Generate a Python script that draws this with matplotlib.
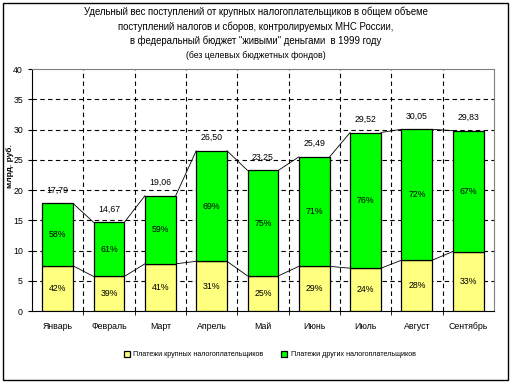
import numpy as np
import matplotlib.pyplot as plt
from matplotlib.patches import Rectangle

plt.rcParams['font.family'] = ['Liberation Sans', 'DejaVu Sans']

# Данные: млрд. руб.
months = ["Январь", "Февраль", "Март", "Апрель", "Май", "Июнь", "Июль", "Август", "Сентябрь"]
totals = [17.79, 14.67, 19.06, 26.50, 23.25, 25.49, 29.52, 30.05, 29.83]
large_pct = [42, 39, 41, 31, 25, 29, 24, 28, 33]
other_pct = [58, 61, 59, 69, 75, 71, 76, 72, 67]
large_vals = [7.47, 5.72, 7.81, 8.22, 5.81, 7.39, 7.08, 8.41, 9.84]

title_lines = [
    "Удельный вес поступлений от крупных налогоплательщиков в общем объеме",
    "поступлений налогов и сборов, контролируемых МНС России,",
    "в федеральный бюджет \"живыми\" деньгами  в 1999 году",
    "(без целевых бюджетных фондов)",
]
legend_labels = ["Платежи крупных налогоплательщиков", "Платежи других налогоплательщиков"]

yellow = "#FFFF80"
green = "#00FF00"

fig = plt.figure(figsize=(5.12, 3.84), dpi=100)
fig.patches.append(Rectangle((0.006, 0.01), 0.986, 0.982, transform=fig.transFigure,
                             fill=False, edgecolor="black", lw=1))

for k, line in enumerate(title_lines):
    fig.text(0.5, 1 - (12 + 14.5 * k) / 384, line, ha="center", va="center",
             fontsize=6.9 if k < 3 else 6.3)

ax = fig.add_axes([0.0625, 0.19, 0.902, 0.63])
x = np.arange(len(months))
w = 0.6
other_vals = [t - b for t, b in zip(totals, large_vals)]

ax.bar(x, large_vals, w, color=yellow, edgecolor="black", lw=0.9, zorder=3,
       label=legend_labels[0])
ax.bar(x, other_vals, w, bottom=large_vals, color=green, edgecolor="black", lw=0.9,
       zorder=3, label=legend_labels[1])

# линии рядов
for i in range(len(months) - 1):
    ax.plot([i + w / 2, i + 1 - w / 2], [large_vals[i], large_vals[i + 1]],
            color="black", lw=0.6, zorder=2)
    ax.plot([i + w / 2, i + 1 - w / 2], [totals[i], totals[i + 1]],
            color="black", lw=0.6, zorder=2)

for i in range(len(months)):
    ax.text(x[i], large_vals[i] / 2, f"{large_pct[i]}%", ha="center", va="center",
            fontsize=6.3, zorder=4)
    ax.text(x[i], large_vals[i] + other_vals[i] / 2, f"{other_pct[i]}%",
            ha="center", va="center", fontsize=6.3, zorder=4)
    ax.annotate(f"{totals[i]:.2f}".replace(".", ","), (x[i], totals[i]),
                xytext=(0, 9.5), textcoords="offset points", ha="center", va="center",
                fontsize=6.3, zorder=4)

ax.set_xlim(-0.5, len(months) - 0.5)
ax.set_ylim(0, 40)
ax.set_yticks(range(0, 41, 5))
ax.set_xticks(x)
ax.set_xticklabels(months, fontsize=6.3)
ax.set_xticks(np.arange(0.5, len(months) - 0.5, 1), minor=True)
ax.tick_params(axis="x", which="major", length=0, pad=8)
ax.tick_params(axis="x", which="minor", length=3, direction="out")
ax.tick_params(axis="y", labelsize=6.3, length=3, direction="out")

for yv in range(5, 40, 5):
    ax.axhline(yv, color="black", lw=0.8, ls=(0, (4, 3)), zorder=1)
for xv in np.arange(0.5, len(months) - 0.5, 1):
    ax.axvline(xv, color="black", lw=0.8, ls=(0, (4, 3)), zorder=1)

ax.spines["top"].set_color("#808080")
ax.spines["right"].set_color("#808080")
ax.set_ylabel("млрд. руб.", fontsize=6, fontweight="bold")
ax.yaxis.set_label_coords(-0.04, 0.6)

ax.legend(loc="upper center", bbox_to_anchor=(0.515, -0.14), ncol=2, frameon=False,
          fontsize=5.1, handlelength=0.8, handleheight=0.8, columnspacing=2.5,
          handletextpad=0.5)

fig.savefig("out.png", dpi=100)
